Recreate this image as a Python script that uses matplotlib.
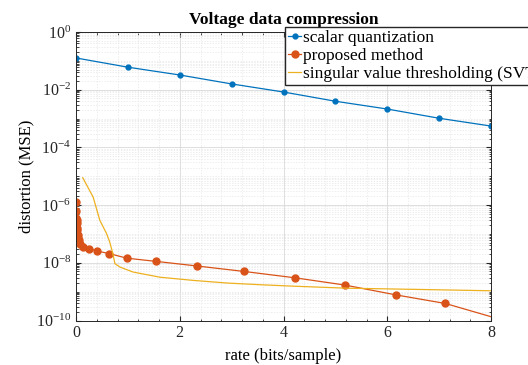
import numpy as np
import matplotlib
matplotlib.use("Agg")
import matplotlib.pyplot as plt
from matplotlib.ticker import LogLocator, MultipleLocator, NullFormatter

plt.rcParams["font.family"] = ["Liberation Serif", "DejaVu Serif"]
plt.rcParams["mathtext.fontset"] = "custom"
plt.rcParams["mathtext.rm"] = "Liberation Serif"

BLUE = "#0072BD"
ORANGE = "#D95319"
YELLOW = "#EDB120"

# scalar quantization
sq_rate = [0, 1, 2, 3, 4, 5, 6, 7, 8]
sq_log_mse = [-0.90, -1.22, -1.49, -1.80, -2.08, -2.40, -2.67, -2.99, -3.26]

# proposed method
pm_rate = [0.0, 0.0, 0.005, 0.01, 0.01, 0.015, 0.02, 0.03, 0.04, 0.05,
           0.077, 0.13, 0.26, 0.40, 0.64, 0.98, 1.54, 2.33, 3.24, 4.22,
           5.18, 6.16, 7.12, 8.10]
pm_log_mse = [-5.89, -6.22, -6.45, -6.53, -6.62, -6.80, -6.88, -7.05, -7.15, -7.22,
              -7.36, -7.45, -7.51, -7.59, -7.68, -7.84, -7.95, -8.11, -8.30, -8.52,
              -8.77, -9.11, -9.41, -9.92]

# singular value thresholding (SVT)
svt_rate = [0.13, 0.33, 0.46, 0.59, 0.65, 0.71, 0.75, 0.85, 1.10, 1.62,
            2.26, 2.90, 3.55, 4.19, 5.22, 6.50, 8.00]
svt_log_mse = [-5.05, -5.72, -6.53, -6.99, -7.28, -7.68, -8.03, -8.15, -8.32, -8.50,
               -8.61, -8.70, -8.76, -8.81, -8.88, -8.92, -8.97]

fig = plt.figure(figsize=(5.28, 3.65), dpi=100)
ax = fig.add_axes([76 / 528, 1 - 320.5 / 365, (491 - 76) / 528, (320.5 - 32) / 365])

ax.plot(sq_rate, 10 ** np.array(sq_log_mse), color=BLUE, lw=0.9, marker=".",
        ms=7, label="scalar quantization")
ax.plot(pm_rate, 10 ** np.array(pm_log_mse), color=ORANGE, lw=0.9, marker="o",
        ms=5, label="proposed method")
ax.plot(svt_rate, 10 ** np.array(svt_log_mse), color=YELLOW, lw=0.9,
        label="singular value thresholding (SVT)")

ax.set_yscale("log")
ax.set_xlim(0, 8)
ax.set_ylim(1e-10, 1)
ax.xaxis.set_major_locator(MultipleLocator(2))
ax.xaxis.set_minor_locator(MultipleLocator(0.4))
ax.yaxis.set_major_locator(LogLocator(base=100, numticks=10))
ax.yaxis.set_minor_locator(LogLocator(base=10, subs=np.arange(1, 10), numticks=100))
ax.yaxis.set_minor_formatter(NullFormatter())

ax.grid(True, which="major", color="#d9d9d9", lw=0.6)
ax.grid(True, which="minor", color="#e6e6e6", lw=0.5, ls=(0, (2, 2)))
ax.tick_params(which="both", direction="in", top=True, right=True,
               labelsize=11.5, colors="#262626")
ax.tick_params(which="major", length=3.5)
ax.tick_params(which="minor", length=1.8)
for s in ax.spines.values():
    s.set_color("#262626")
    s.set_linewidth(0.7)

ax.set_title("Voltage data compression", fontsize=12.5, fontweight="bold", pad=6)
ax.set_xlabel("rate (bits/sample)", fontsize=12, labelpad=5)
ax.set_ylabel("distortion (MSE)", fontsize=12, labelpad=1)

fig.legend(loc="upper left", bbox_to_anchor=(285 / 528, 1 - 27 / 365),
           fontsize=12.5, frameon=True, fancybox=False, edgecolor="#262626",
           framealpha=1, handlelength=0.8, handletextpad=0.1,
           borderpad=0.15, labelspacing=0.12, borderaxespad=0)

fig.savefig("out.png", dpi=100)
